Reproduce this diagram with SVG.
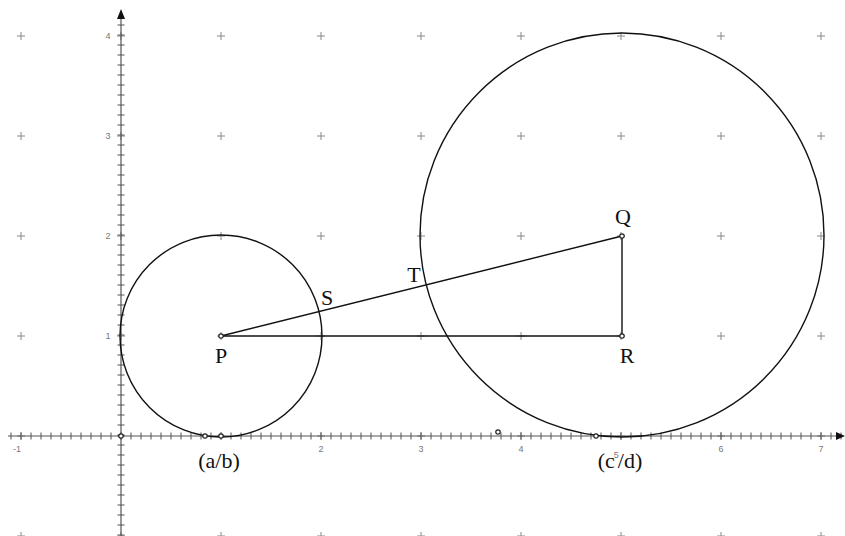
<svg xmlns="http://www.w3.org/2000/svg" width="845" height="536" viewBox="0 0 845 536">
<style>
.lbl{font-family:"Liberation Serif","Times New Roman",serif;font-size:22px;fill:#111}
.tick{font-family:"Liberation Sans",Arial,sans-serif;font-size:9px;fill:#777}
.ax{stroke:#555;stroke-width:1.2;fill:none}
.tk{stroke:#555;stroke-width:7;stroke-dasharray:1 9;fill:none}
.geo{stroke:#111;stroke-width:1.4;fill:none}
.pt{fill:#fff;stroke:#222;stroke-width:1.2}
</style>
<defs>
<pattern id="grid" x="-29" y="-14" width="100" height="100" patternUnits="userSpaceOnUse">
<path d="M46 50H54M50 46V54" stroke="#888" stroke-width="1"/>
</pattern>
</defs>
<rect width="845" height="536" fill="#fff"/>
<rect width="845" height="536" fill="url(#grid)"/>
<g id="axes">
<line class="ax" x1="8" y1="436" x2="838" y2="436"/>
<line class="ax" x1="121" y1="18" x2="121" y2="536"/>
<line class="tk" x1="10.5" y1="436" x2="842" y2="436"/>
<line class="tk" x1="121" y1="535.5" x2="121" y2="24"/>
<polygon points="845,436 836,432 836,440" fill="#111"/>
<polygon points="121,9 117,19 125,19" fill="#111"/>
<text class="tick" x="17" y="452" text-anchor="middle">-1</text>
<text class="tick" x="321" y="452" text-anchor="middle">2</text>
<text class="tick" x="421" y="452" text-anchor="middle">3</text>
<text class="tick" x="521" y="452" text-anchor="middle">4</text>
<text class="tick" x="721" y="452" text-anchor="middle">6</text>
<text class="tick" x="821" y="452" text-anchor="middle">7</text>
<text class="tick" x="108" y="339" text-anchor="middle">1</text>
<text class="tick" x="108" y="239" text-anchor="middle">2</text>
<text class="tick" x="108" y="139" text-anchor="middle">3</text>
<text class="tick" x="108" y="39" text-anchor="middle">4</text>
</g>
<g id="circleP"><circle class="geo" cx="221" cy="336" r="101"/></g>
<g id="circleQ"><circle class="geo" cx="622" cy="235" r="202"/></g>
<g id="connectors">
<line class="geo" x1="221" y1="336" x2="622" y2="236"/>
<line class="geo" x1="221" y1="336" x2="622" y2="336"/>
<line class="geo" x1="622" y1="236" x2="622" y2="336"/>
</g>
<g id="points">
<circle class="pt" cx="121" cy="436" r="2.2"/>
<circle class="pt" cx="205" cy="436" r="2.2"/>
<circle class="pt" cx="221" cy="436" r="2.2"/>
<circle class="pt" cx="498" cy="432" r="2.2"/>
<circle class="pt" cx="596" cy="436" r="2.2"/>
<circle class="pt" cx="221" cy="336" r="2.2"/>
<circle class="pt" cx="622" cy="236" r="2.2"/>
<circle class="pt" cx="622" cy="336" r="2.2"/>
</g>
<g id="labels">
<text class="lbl" x="221" y="363" text-anchor="middle">P</text>
<text class="lbl" x="623" y="224" text-anchor="middle">Q</text>
<text class="lbl" x="627" y="363" text-anchor="middle">R</text>
<text class="lbl" x="327" y="305" text-anchor="middle">S</text>
<text class="lbl" x="414" y="282" text-anchor="middle">T</text>
<text class="lbl" x="219" y="468" text-anchor="middle">(a/b)</text>
<text class="lbl" x="620" y="468" text-anchor="middle">(c<tspan dy="-10" dx="-1" font-family="Liberation Sans,Arial,sans-serif" font-size="9" fill="#777">5</tspan><tspan dy="10" dx="-1">/d)</tspan></text>
</g>
</svg>
